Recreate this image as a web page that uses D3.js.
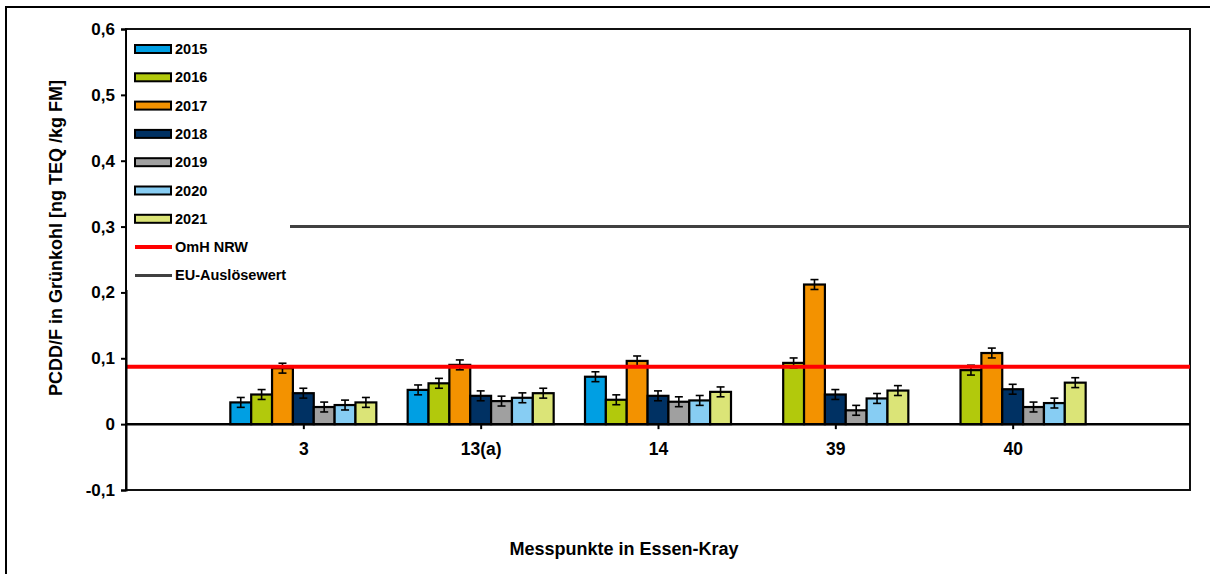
<!DOCTYPE html>
<html>
<head>
<meta charset="utf-8">
<script src="https://cdn.jsdelivr.net/npm/d3@7"></script>
<style>
  body { margin: 0; background: #fff; }
  svg { font-family: "Liberation Sans", Arial, sans-serif; font-weight: bold; }
</style>
</head>
<body>
<svg id="chart" width="1210" height="574"></svg>
<script>
const sites = ["3", "13(a)", "14", "39", "40"];
const years = ["2015", "2016", "2017", "2018", "2019", "2020", "2021"];
const yearColors = ["#009fe3", "#b2c90c", "#f39200", "#003163", "#a0a0a0", "#87cdf3", "#dbe477"];

// values per year, in order of sites (null = no measurement)
const v2015 = [0.033, 0.052, 0.072, null, null];
const v2016 = [0.045, 0.062, 0.037, 0.093, 0.082];
const v2017 = [0.085, 0.090, 0.096, 0.212, 0.108];
const v2018 = [0.047, 0.043, 0.043, 0.045, 0.053];
const v2019 = [0.026, 0.035, 0.034, 0.021, 0.026];
const v2020 = [0.029, 0.040, 0.036, 0.039, 0.032];
const v2021 = [0.033, 0.047, 0.049, 0.051, 0.063];
const errorMargin = 0.0075;

const omhNRW = 0.087;
const euTrigger = 0.3;
const yTicks = [-0.1, 0, 0.1, 0.2, 0.3, 0.4, 0.5, 0.6];

const series = [v2015, v2016, v2017, v2018, v2019, v2020, v2021];

const svg = d3.select("#chart");

// outer frame
svg.append("rect")
    .attr("x", 6).attr("y", 7)
    .attr("width", 1300).attr("height", 700)
    .attr("fill", "none").attr("stroke", "#000").attr("stroke-width", 2);

const plot = { left: 126, right: 1190, top: 29, bottom: 490 };

const y = d3.scaleLinear().domain([-0.1, 0.6]).range([plot.bottom, plot.top]);
const x = d3.scalePoint().domain(sites).range([plot.left, plot.right]).padding(1);
const xInner = d3.scaleBand().domain(years).range([-73, 73]);

// plot border
svg.append("rect")
    .attr("x", plot.left).attr("y", plot.top)
    .attr("width", plot.right - plot.left).attr("height", plot.bottom - plot.top)
    .attr("fill", "none").attr("stroke", "#111").attr("stroke-width", 2);

// EU trigger line
svg.append("line")
    .attr("x1", plot.left).attr("x2", plot.right)
    .attr("y1", y(euTrigger)).attr("y2", y(euTrigger))
    .attr("stroke", "#404040").attr("stroke-width", 3);

// bars
const barData = [];
series.forEach((vals, i) => {
    vals.forEach((v, j) => {
        if (v !== null) barData.push({ year: years[i], color: yearColors[i], site: sites[j], value: v });
    });
});

const bars = svg.append("g");
bars.selectAll("rect")
    .data(barData)
    .enter().append("rect")
    .attr("x", d => x(d.site) + xInner(d.year))
    .attr("y", d => y(d.value))
    .attr("width", xInner.bandwidth())
    .attr("height", d => y(0) - y(d.value))
    .attr("fill", d => d.color)
    .attr("stroke", "#000")
    .attr("stroke-width", 2.2);

// error bars
const err = svg.append("g").attr("stroke", "#000").attr("stroke-width", 1.6);
barData.forEach(d => {
    const cx = x(d.site) + xInner(d.year) + xInner.bandwidth() / 2;
    const y1 = y(d.value + errorMargin), y2 = y(d.value - errorMargin);
    err.append("line").attr("x1", cx).attr("x2", cx).attr("y1", y1).attr("y2", y2);
    err.append("line").attr("x1", cx - 4).attr("x2", cx + 4).attr("y1", y1).attr("y2", y1);
    err.append("line").attr("x1", cx - 4).attr("x2", cx + 4).attr("y1", y2).attr("y2", y2);
});

// OmH NRW line
svg.append("line")
    .attr("x1", plot.left).attr("x2", plot.right)
    .attr("y1", y(omhNRW)).attr("y2", y(omhNRW))
    .attr("stroke", "#ff0000").attr("stroke-width", 4);

// y axis
const fmt = d => d === 0 ? "0" : d3.format(".1f")(d).replace(".", ",").replace("−", "-");
const yAxis = svg.append("g")
    .attr("transform", `translate(${plot.left},0)`)
    .call(d3.axisLeft(y).tickValues(yTicks).tickFormat(fmt).tickSize(5).tickPadding(6));
yAxis.select(".domain").attr("stroke", "#000").attr("stroke-width", 2);
yAxis.selectAll(".tick line").attr("stroke", "#000").attr("stroke-width", 2);
yAxis.selectAll("text").attr("font-size", 17).attr("font-family", "Liberation Sans, Arial, sans-serif")
    .attr("font-weight", "bold").attr("fill", "#000");

// x axis at zero
const xAxis = svg.append("g")
    .attr("transform", `translate(0,${y(0)})`)
    .call(d3.axisBottom(x).tickSize(5).tickPadding(13));
xAxis.select(".domain").remove();
svg.append("line")
    .attr("x1", plot.left).attr("x2", plot.right)
    .attr("y1", y(0)).attr("y2", y(0))
    .attr("stroke", "#000").attr("stroke-width", 2.5);
xAxis.selectAll(".tick line").attr("stroke", "#000").attr("stroke-width", 2);
xAxis.selectAll("text").attr("font-size", 17.5).attr("font-family", "Liberation Sans, Arial, sans-serif")
    .attr("font-weight", "bold").attr("fill", "#000");

// legend
const legendItems = years.map((yr, i) => ({ label: yr, color: yearColors[i], type: "box" }))
    .concat([
        { label: "OmH NRW", color: "#ff0000", type: "line", width: 4 },
        { label: "EU-Auslösewert", color: "#404040", type: "line", width: 3 }
    ]);

svg.append("rect")
    .attr("x", plot.left + 1).attr("y", plot.top + 1)
    .attr("width", 163).attr("height", 260)
    .attr("fill", "#fff");

const legend = svg.append("g").attr("transform", "translate(135,49)");
const item = legend.selectAll("g")
    .data(legendItems)
    .enter().append("g")
    .attr("transform", (d, i) => `translate(0,${i * 28.3})`);

item.filter(d => d.type === "box").append("rect")
    .attr("x", 0).attr("y", -4).attr("width", 36).attr("height", 8)
    .attr("fill", d => d.color).attr("stroke", "#000").attr("stroke-width", 2);
item.filter(d => d.type === "line").append("line")
    .attr("x1", 0).attr("x2", 37).attr("y1", 0).attr("y2", 0)
    .attr("stroke", d => d.color).attr("stroke-width", d => d.width);
item.append("text")
    .attr("x", 40).attr("y", 5)
    .attr("font-size", 14.5)
    .text(d => d.label);

// axis titles
svg.append("text")
    .attr("transform", "translate(62,238) rotate(-90)")
    .attr("text-anchor", "middle")
    .attr("font-size", 18)
    .text("PCDD/F in Grünkohl [ng TEQ /kg FM]");

svg.append("text")
    .attr("x", 624).attr("y", 555)
    .attr("text-anchor", "middle")
    .attr("font-size", 18)
    .text("Messpunkte in Essen-Kray");
</script>
</body>
</html>
